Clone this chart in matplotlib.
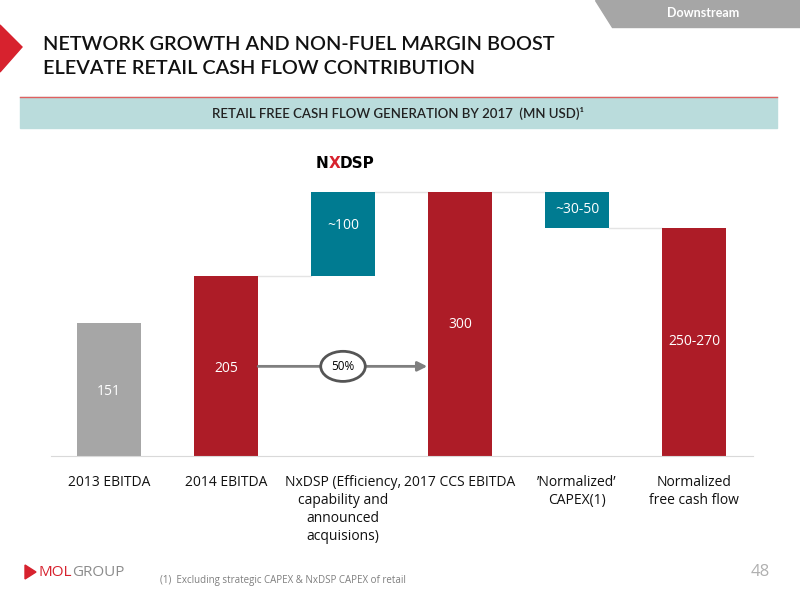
import matplotlib.pyplot as plt
from matplotlib.patches import Polygon, Rectangle

# Datos del puente de flujo de caja (MN USD)
categorias = ["2013 EBITDA", "2014 EBITDA",
              "NxDSP (Efficiency,\ncapability and\nannounced\nacquisions)",
              "2017 CCS EBITDA", "\u2019Normalized\u2019\nCAPEX(1)",
              "Normalized\nfree cash flow"]
base = [0, 0, 205, 0, 260, 0]
altura = [151, 205, 95, 300, 40, 260]
etiquetas = ["151", "205", "~100", "300", "~30-50", "250-270"]
pos_etiqueta = [73, 99, 262, 150, 280, 130]   # y de cada etiqueta

GRIS = "#a6a6a6"
ROJO = "#ad1c27"
AZUL = "#007b91"
colores = [GRIS, ROJO, AZUL, ROJO, AZUL, ROJO]

plt.rcParams['font.family'] = ['Open Sans', 'DejaVu Sans']

fig = plt.figure(figsize=(8, 6), dpi=100)

# --- cabecera ---
fig.patches.append(Polygon([[595/800, 1], [800/800, 1], [800/800, 1-27/600], [612/800, 1-27/600]],
                           closed=True, transform=fig.transFigure, color=GRIS, zorder=0))
fig.text(703/800, 1-13/600, "Downstream", color="white", fontsize=9, ha="center", va="center",
         family="Lato", fontweight="bold")
fig.patches.append(Polygon([[0, 1-25/600], [22/800, 1-47/600], [0, 1-72/600]],
                           closed=True, transform=fig.transFigure, color="#d7222e"))
fig.text(43/800, 1-44/600, "NETWORK GROWTH AND NON-FUEL MARGIN BOOST", fontsize=14.3,
         fontweight="semibold", family="Lato", va="center", color="#111111")
fig.text(43/800, 1-68/600, "ELEVATE RETAIL CASH FLOW CONTRIBUTION", fontsize=14.3,
         fontweight="semibold", family="Lato", va="center", color="#111111")

fig.patches.append(Rectangle((20/800, 1-128/600), 757/800, 31/600, transform=fig.transFigure,
                             color="#badcdc", zorder=0))
fig.lines.append(plt.Line2D([20/800, 777/800], [1-97/600, 1-97/600], transform=fig.transFigure,
                            color="#e06060", lw=1))
fig.text(398/800, 1-113/600, "RETAIL FREE CASH FLOW GENERATION BY 2017  (MN USD)\u00b9",
         fontsize=9.5, family="Lato", fontweight="semibold", ha="center", va="center", color="#222222")

# --- grafico ---
ax = fig.add_axes([50.5/800, 144/600, 702/800, 290/600])
x = list(range(len(categorias)))
ax.bar(x, altura, bottom=base, width=0.55, color=colores, zorder=2)
for i, txt in enumerate(etiquetas):
    ax.text(i, pos_etiqueta[i], txt, color="white", fontsize=10, ha="center", va="center", zorder=3)

# lineas de conexion
conexiones = [(1, 2, 205), (2, 3, 300), (3, 4, 300), (4, 5, 260)]
for a, b, y in conexiones:
    ax.plot([a + 0.275, b - 0.275], [y, y], color="#e4e4e4", lw=1, zorder=1)

ax.set_xlim(-0.5, 5.5)
ax.set_ylim(0, 330)
ax.set_xticks(x)
ax.set_xticklabels(categorias, fontsize=10, color="#111111", linespacing=1.25, va="top")
ax.tick_params(axis="x", length=0, pad=14)
ax.set_yticks([])
for s in ["top", "right", "left"]:
    ax.spines[s].set_visible(False)
ax.spines["bottom"].set_color("#d9d9d9")

# flecha de crecimiento 50%
ax.annotate("", xy=(2.72, 102), xytext=(1.275, 102),
            arrowprops=dict(arrowstyle="-|>", color="#7f7f7f", lw=2, mutation_scale=14,
                            shrinkA=0, shrinkB=0), zorder=3)
ax.text(2, 102, "50%", fontsize=8.5, ha="center", va="center", zorder=4,
        bbox=dict(boxstyle="ellipse,pad=0.35", fc="white", ec="#555555", lw=2))

# logo NxDSP
fig.text(316/800, 1-163/600, "N", fontsize=11, fontweight="bold", family="DejaVu Sans", va="center")
fig.text(329/800, 1-163/600, "X", fontsize=11, fontweight="bold", family="DejaVu Sans", va="center",
         color="#d7222e")
fig.text(340/800, 1-163/600, "DSP", fontsize=11, fontweight="bold", family="DejaVu Sans", va="center")

# --- pie ---
fig.patches.append(Polygon([[25/800, 1-565/600], [36/800, 1-572/600], [25/800, 1-579/600]],
                           closed=True, transform=fig.transFigure, color="#d7222e"))
fig.text(39/800, 1-572/600, "MOL", fontsize=11, color="#d7222e", va="center", family="Open Sans")
fig.text(72/800, 1-572/600, "GROUP", fontsize=11, color="#8c8c8c", va="center", family="Open Sans")
fig.text(160/800, 1-580/600, "(1)  Excluding strategic CAPEX & NxDSP CAPEX of retail",
         fontsize=7, color="#7f7f7f", va="center")
fig.text(770/800, 1-572/600, "48", fontsize=12, color="#b0b0b0", ha="right", va="center")

fig.savefig("out.png", dpi=100)
